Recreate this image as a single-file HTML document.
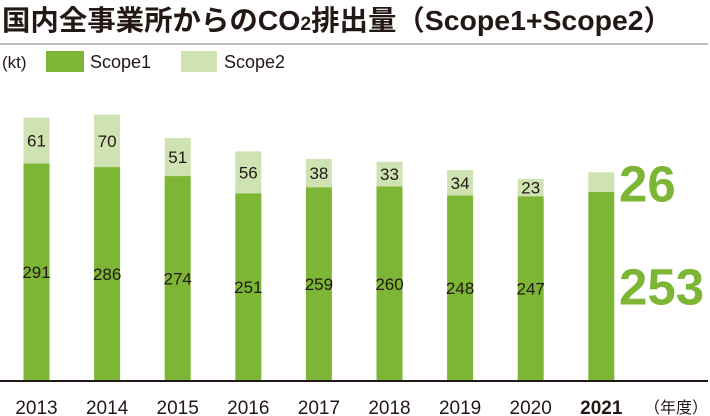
<!DOCTYPE html>
<html><head><meta charset="utf-8"><style>
body{margin:0;background:#fff;width:710px;height:416px;overflow:hidden;font-family:"Liberation Sans","Noto Sans CJK JP",sans-serif}
</style></head><body>
<svg width="710" height="416" style="position:absolute;left:0;top:0" id="c">
<text x="2" y="30" font-size="28" font-weight="bold" fill="#231815" textLength="670" lengthAdjust="spacingAndGlyphs">国内全事業所からのCO<tspan font-size="19">2</tspan>排出量（Scope1+Scope2）</text>
<line x1="0" y1="44" x2="708" y2="44" stroke="#aaa" stroke-width="1.5"/>
<text x="2" y="68" font-size="17" fill="#231815">(kt)</text>
<rect x="46" y="51" width="38" height="21" fill="#7cb634"/>
<text x="90" y="68" font-size="18" fill="#231815">Scope1</text>
<rect x="181" y="51" width="36" height="21" fill="#cfe3b2"/>
<text x="224" y="68" font-size="18" fill="#231815">Scope2</text>
<g id="bars"></g>
<line x1="0" y1="381" x2="708" y2="381" stroke="#231815" stroke-width="2"/>
<text x="708" y="413" font-size="16" text-anchor="end" fill="#231815">（年度）</text>
</svg>
<script>
const years=["2013","2014","2015","2016","2017","2018","2019","2020","2021"];
const scope1=[291,286,274,251,259,260,248,247,253];
const scope2=[61,70,51,56,38,33,34,23,26];
const base=381,k=0.748,x0=36.5,step=70.6,bw=26;
const y=v=>base-v*k, xc=i=>x0+i*step;
const g=document.getElementById('bars'),NS="http://www.w3.org/2000/svg";
function mk(tag,attrs){const e=document.createElementNS(NS,tag);for(const a in attrs)e.setAttribute(a,attrs[a]);g.appendChild(e);return e;}
years.forEach((yr,i)=>{
 const last=i===years.length-1;
 const r1=mk('rect',{x:xc(i)-bw/2,y:y(scope1[i]),width:bw,height:scope1[i]*k,fill:'#7cb634'});
 
 
 const r2=mk('rect',{x:xc(i)-bw/2,y:y(scope1[i]+scope2[i]),width:bw,height:scope2[i]*k,fill:'#cfe3b2'});
 
 
 const xl=mk('text',{x:xc(i),y:414,'font-size':19,'text-anchor':'middle',fill:'#231815','font-weight':last?'bold':'normal'});
 xl.textContent=yr;
 
 
 if(!last){
  const l1=mk('text',{x:xc(i),y:(y(scope1[i])+base)/2+6,'font-size':17,'text-anchor':'middle',fill:'#231815'});
  l1.textContent=scope1[i];
  
  
  const l2=mk('text',{x:xc(i),y:(y(scope1[i])+y(scope1[i]+scope2[i]))/2+6,'font-size':17,'text-anchor':'middle',fill:'#231815'});
  l2.textContent=scope2[i];
  
  
 } else {
  const b2=mk('text',{x:619,y:y(scope1[i]+scope2[i])+29,'font-size':51,'font-weight':'bold',fill:'#7cb634'});
  b2.textContent=scope2[i];
  
  
  const b1=mk('text',{x:619,y:(y(scope1[i])+base)/2+18,'font-size':51,'font-weight':'bold',fill:'#7cb634'});
  b1.textContent=scope1[i];
  
  
 }
});
</script>
</body></html>
